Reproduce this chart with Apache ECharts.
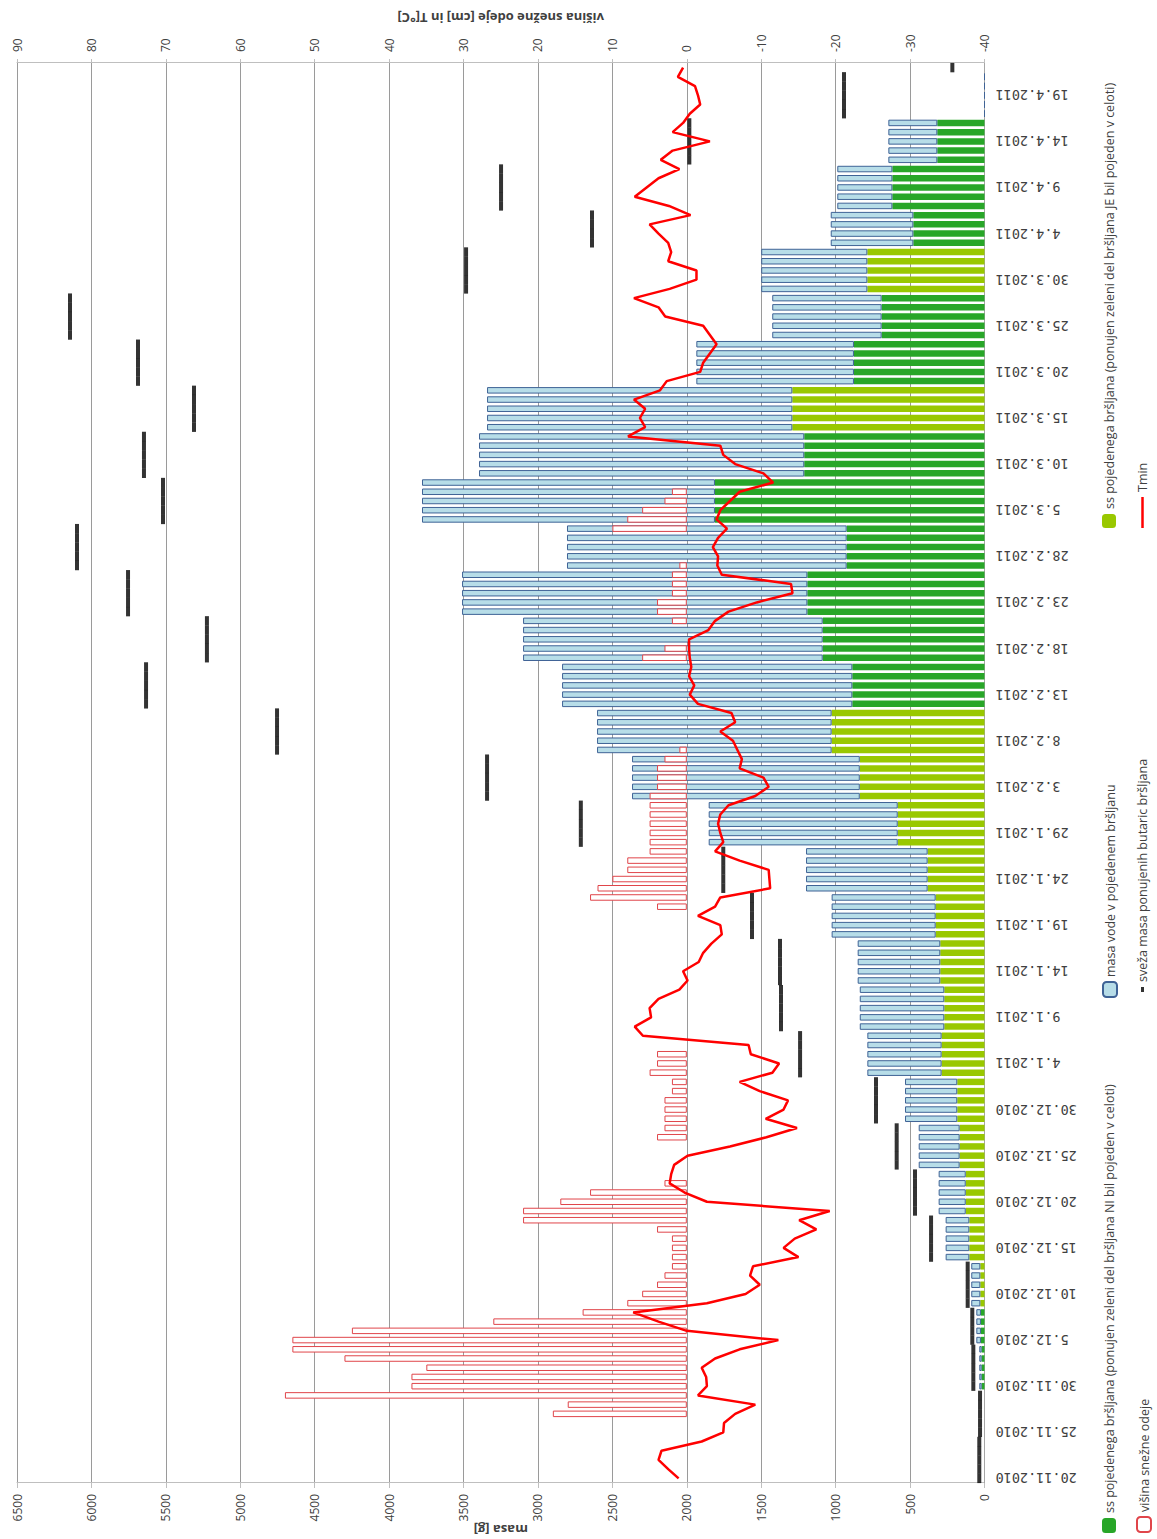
<!DOCTYPE html>
<html>
<head>
<meta charset="utf-8">
<script src="https://cdn.jsdelivr.net/npm/echarts@6/dist/echarts.min.js"></script>
<style>
  html, body { margin: 0; padding: 0; background: #fff; overflow: hidden; }
  #page { position: relative; width: 1157px; height: 1539px; overflow: hidden; background: #fff; }
  /* the chart is laid out landscape and turned a quarter turn counter-clockwise */
  #chart { position: absolute; left: 0; top: 0; width: 1539px; height: 1157px;
           transform-origin: 0 0; transform: translate(0px, 1539px) rotate(-90deg); }
</style>
</head>
<body>
<div id="page"><div id="chart"></div></div>
<script>
// Days of the feeding experiment (20.11.2010 - 22.4.2011)
const days = [
  "20.11.2010","21.11.2010","22.11.2010","23.11.2010","24.11.2010","25.11.2010","26.11.2010","27.11.2010","28.11.2010","29.11.2010","30.11.2010",
  "1.12.2010","2.12.2010","3.12.2010","4.12.2010","5.12.2010","6.12.2010","7.12.2010","8.12.2010","9.12.2010","10.12.2010",
  "11.12.2010","12.12.2010","13.12.2010","14.12.2010","15.12.2010","16.12.2010","17.12.2010","18.12.2010","19.12.2010","20.12.2010",
  "21.12.2010","22.12.2010","23.12.2010","24.12.2010","25.12.2010","26.12.2010","27.12.2010","28.12.2010","29.12.2010","30.12.2010","31.12.2010",
  "1.1.2011","2.1.2011","3.1.2011","4.1.2011","5.1.2011","6.1.2011","7.1.2011","8.1.2011","9.1.2011","10.1.2011",
  "11.1.2011","12.1.2011","13.1.2011","14.1.2011","15.1.2011","16.1.2011","17.1.2011","18.1.2011","19.1.2011","20.1.2011",
  "21.1.2011","22.1.2011","23.1.2011","24.1.2011","25.1.2011","26.1.2011","27.1.2011","28.1.2011","29.1.2011","30.1.2011","31.1.2011",
  "1.2.2011","2.2.2011","3.2.2011","4.2.2011","5.2.2011","6.2.2011","7.2.2011","8.2.2011","9.2.2011","10.2.2011",
  "11.2.2011","12.2.2011","13.2.2011","14.2.2011","15.2.2011","16.2.2011","17.2.2011","18.2.2011","19.2.2011","20.2.2011",
  "21.2.2011","22.2.2011","23.2.2011","24.2.2011","25.2.2011","26.2.2011","27.2.2011","28.2.2011",
  "1.3.2011","2.3.2011","3.3.2011","4.3.2011","5.3.2011","6.3.2011","7.3.2011","8.3.2011","9.3.2011","10.3.2011",
  "11.3.2011","12.3.2011","13.3.2011","14.3.2011","15.3.2011","16.3.2011","17.3.2011","18.3.2011","19.3.2011","20.3.2011",
  "21.3.2011","22.3.2011","23.3.2011","24.3.2011","25.3.2011","26.3.2011","27.3.2011","28.3.2011","29.3.2011","30.3.2011","31.3.2011",
  "1.4.2011","2.4.2011","3.4.2011","4.4.2011","5.4.2011","6.4.2011","7.4.2011","8.4.2011","9.4.2011","10.4.2011",
  "11.4.2011","12.4.2011","13.4.2011","14.4.2011","15.4.2011","16.4.2011","17.4.2011","18.4.2011","19.4.2011","20.4.2011",
  "21.4.2011","22.4.2011"
];

const _ = null;

// dry mass of eaten ivy, offered green part NOT eaten completely [g]
const dryPartEaten = [
  _,_,_,_,_,_,_,_,_,_,
  19,19,19,19,19,24,24,24,24,_,
  _,_,_,_,_,_,_,_,_,_,
  _,_,_,_,_,_,_,_,_,_,
  _,_,_,_,_,_,_,_,_,_,
  _,_,_,_,_,_,_,_,_,_,
  _,_,_,_,_,_,_,_,_,_,
  _,_,_,_,_,_,_,_,_,_,
  _,_,_,_,888,888,888,888,888,1087,
  1087,1087,1087,1087,1190,1190,1190,1190,1190,926,
  926,926,926,926,1811,1811,1811,1811,1811,1211,
  1211,1211,1211,1211,_,_,_,_,_,877,
  877,877,877,877,691,691,691,691,691,_,
  _,_,_,_,478,478,478,478,619,619,
  619,619,619,317,317,317,317,317,_,_,
  _,_,_,_
];

// dry mass of eaten ivy, offered green part eaten completely [g]
const dryAllEaten = [
  _,_,_,_,_,_,_,_,_,_,
  _,_,_,_,_,_,_,_,_,28,
  28,28,28,28,102,102,102,102,102,126,
  126,126,126,126,167,167,167,167,167,183,
  183,183,183,183,288,288,288,288,288,270,
  270,270,270,270,297,297,297,297,297,328,
  328,328,328,328,382,382,382,382,382,583,
  583,583,583,583,838,838,838,838,838,1027,
  1027,1027,1027,1027,_,_,_,_,_,_,
  _,_,_,_,_,_,_,_,_,_,
  _,_,_,_,_,_,_,_,_,_,
  _,_,_,_,1291,1291,1291,1291,1291,_,
  _,_,_,_,_,_,_,_,_,787,
  787,787,787,787,_,_,_,_,_,_,
  _,_,_,_,_,_,_,_,_,_,
  _,_,_,_
];

// water in the eaten ivy [g]
const waterEaten = [
  _,_,_,_,_,_,_,_,_,_,
  16,16,16,16,16,31,31,31,31,61,
  61,61,61,61,159,159,159,159,159,182,
  182,182,182,182,275,275,275,275,275,351,
  351,351,351,351,499,499,499,499,499,568,
  568,568,568,568,555,555,555,555,555,699,
  699,699,699,699,817,817,817,817,817,1270,
  1270,1270,1270,1270,1530,1530,1530,1530,1530,1576,
  1576,1576,1576,1576,1950,1950,1950,1950,1950,2013,
  2013,2013,2013,2013,2320,2320,2320,2320,2320,1879,
  1879,1879,1879,1879,1968,1968,1968,1968,1968,2185,
  2185,2185,2185,2185,2051,2051,2051,2051,2051,1059,
  1059,1059,1059,1059,735,735,735,735,735,713,
  713,713,713,713,555,555,555,555,370,370,
  370,370,370,329,329,329,329,329,0,0,
  0,0,0,_
];

// fresh mass of the offered ivy bundles [g]
const freshOffered = [
  35,35,35,35,35,30,30,30,30,30,
  75,75,75,75,75,82,82,82,82,113,
  113,113,113,113,359,359,359,359,359,467,
  467,467,467,467,590,590,590,590,590,729,
  729,729,729,729,1239,1239,1239,1239,1239,1367,
  1367,1367,1367,1367,1374,1374,1374,1374,1374,1562,
  1562,1562,1562,1562,1755,1755,1755,1755,1755,2712,
  2712,2712,2712,2712,3342,3342,3342,3342,3342,4753,
  4753,4753,4753,4753,5633,5633,5633,5633,5633,5224,
  5224,5224,5224,5224,5754,5754,5754,5754,5754,6097,
  6097,6097,6097,6097,5519,5519,5519,5519,5519,5647,
  5647,5647,5647,5647,5311,5311,5311,5311,5311,5687,
  5687,5687,5687,5687,6144,6144,6144,6144,6144,3483,
  3483,3483,3483,3483,2637,2637,2637,2637,3248,3248,
  3248,3248,3248,1983,1983,1983,1983,1983,944,944,
  944,944,944,216
];

// snow depth [cm]
const snowDepth = [
  _,_,_,_,_,_,_,18,16,54,
  37,37,35,46,53,53,45,26,14,8,
  6,4,3,2,2,2,2,4,22,22,
  17,13,3,_,_,_,_,4,3,3,
  3,3,2,2,5,4,4,_,_,_,
  _,_,_,_,_,_,_,_,_,_,
  _,_,4,13,12,10,8,8,5,5,
  5,5,5,5,5,4,4,4,3,1,
  _,_,_,_,_,_,_,_,_,6,
  3,_,_,2,4,4,2,2,2,1,
  _,_,_,10,8,6,3,2,_,_,
  _,_,_,_,_,_,_,_,_,_,
  _,_,_,_,_,_,_,_,_,_,
  _,_,_,_,_,_,_,_,_,_,
  _,_,_,_,_,_,_,_,_,_,
  _,_,_,_
];

// minimum daily temperature [°C]
const tMin = [
  1.1,2.5,3.8,3.4,-2.0,-4.9,-5.0,-6.5,-9.2,-1.5,
  -2.7,-2.6,-2.0,-3.8,-7.1,-12.3,0.0,3.8,7.2,-2.7,
  -7.9,-9.8,-8.5,-8.9,-15.0,-13.0,-14.5,-17.4,-15.1,-19.2,
  -2.7,0.3,2.3,2.1,1.7,-0.1,-5.8,-10.7,-14.8,-10.6,
  -13.0,-13.6,-9.8,-7.1,-11.5,-12.4,-8.6,-8.3,5.9,7.0,
  4.8,5.0,3.8,1.0,-0.1,0.5,-1.6,-2.2,-3.3,-4.7,
  -4.5,-1.5,-3.8,-4.5,-11.2,-11.1,-11.0,-7.1,-3.8,-4.9,
  -4.5,-4.2,-4.5,-5.6,-9.2,-11.0,-10.3,-7.1,-7.4,-6.8,
  -6.2,-4.5,-6.5,-6.0,-1.5,-0.4,-1.0,-0.3,-0.6,-0.4,
  -0.3,-0.3,-2.9,-3.8,-5.6,-9.4,-14.2,-14.0,-4.7,-4.1,
  -4.2,-3.5,-4.2,-5.4,-4.0,-4.5,-5.8,-7.1,-11.6,-10.3,
  -6.5,-4.9,-4.5,7.9,5.6,6.3,5.6,7.1,3.6,2.7,
  -1.8,-2.2,-3.1,-4.0,-3.1,-2.2,2.9,3.8,7.1,2.3,
  -1.3,-1.3,2.5,2.1,2.5,3.8,5.0,-0.5,2.4,7.0,
  5.4,3.8,1.0,3.5,1.9,-3.1,1.9,0.5,-0.4,-1.8,
  -1.5,-1.1,1.2,0.5
];

const massTicks = { min: 0, max: 6500, step: 500 };
const snowTicks = { min: -40, max: 90, step: 10 };

const NAME_PART = 'ss pojedenega bršljana (ponujen zeleni del bršljana NI bil pojeden v celoti)';
const NAME_ALL = 'ss pojedenega bršljana (ponujen zeleni del bršljana JE bil pojeden v celoti)';
const NAME_WATER = 'masa vode v pojedenem bršljanu';
const NAME_SNOW = 'višina snežne odeje';
const NAME_FRESH = 'sveža masa ponujenih butaric bršljana';
const NAME_TMIN = 'Tmin';

const TEXT = '#404040';
const UI_FONT = 'Open Sans';
const BAR_W = 6.5;

const legendText = { fontFamily: UI_FONT, fontSize: 12.5, color: TEXT };
function legendAt(item, left, top, w, h) {
  return { data: [item], left: left, top: top, orient: 'horizontal',
           itemWidth: w, itemHeight: h, padding: 0, textStyle: legendText,
           selectedMode: false };
}

const chart = echarts.init(document.getElementById('chart'), null,
  { renderer: 'svg', width: 1539, height: 1157 });

chart.setOption({
  animation: false,
  backgroundColor: '#ffffff',
  grid: { left: 56, right: 63, top: 17, bottom: 172.5,
          containLabel: false, outerBoundsMode: 'none' },
  legend: [
    legendAt(NAME_PART, 6, 1102, 15, 14),
    legendAt(NAME_SNOW, 6, 1136, 15, 14),
    legendAt(NAME_WATER, 541, 1102, 15, 14),
    legendAt(NAME_FRESH, 547, 1136, 5, 3),
    legendAt(NAME_ALL, 1011, 1102, 14, 14),
    legendAt({ name: NAME_TMIN, icon: 'rect' }, 1011, 1136, 31, 2.5)
  ],
  xAxis: {
    type: 'category', data: days, boundaryGap: true,
    axisLine: { show: true, lineStyle: { color: '#a6a6a6', width: 1 } },
    axisTick: { show: false },
    axisLabel: { interval: 4, rotate: 90, margin: 11,
                 fontFamily: 'DejaVu Sans Mono', fontSize: 13.5, color: TEXT },
    splitLine: { show: false }
  },
  yAxis: [
    {
      type: 'value', position: 'left',
      min: massTicks.min, max: massTicks.max, interval: massTicks.step,
      name: 'masa [g]', nameLocation: 'middle', nameRotate: 90, nameGap: 40,
      nameMoveOverlap: false,
      nameTextStyle: { fontFamily: UI_FONT, fontWeight: 'bold', fontSize: 13, color: TEXT },
      axisLine: { show: true, lineStyle: { color: '#bfbfbf' } },
      axisTick: { show: true, length: 5, lineStyle: { color: '#bfbfbf' } },
      axisLabel: { margin: 11, fontFamily: UI_FONT, fontSize: 12, color: TEXT,
                   formatter: function (v) { return String(v); } },
      splitLine: { show: true, lineStyle: { color: '#9a9a9a', width: 1 } }
    },
    {
      type: 'value', position: 'right',
      min: snowTicks.min, max: snowTicks.max, interval: snowTicks.step,
      name: 'višina snežne odeje [cm] in T[°C]', nameLocation: 'middle', nameRotate: 90, nameGap: 39,
      nameMoveOverlap: false,
      nameTextStyle: { fontFamily: UI_FONT, fontWeight: 'bold', fontSize: 13, color: TEXT },
      axisLine: { show: true, lineStyle: { color: '#bfbfbf' } },
      axisTick: { show: true, length: 4, lineStyle: { color: '#bfbfbf' } },
      axisLabel: { margin: 11, fontFamily: UI_FONT, fontSize: 12, color: TEXT,
                   formatter: function (v) { return String(v); } },
      splitLine: { show: false }
    }
  ],
  series: [
    {
      name: NAME_PART, type: 'bar', stack: 'eaten', yAxisIndex: 0,
      data: dryPartEaten, barWidth: BAR_W, barGap: '-100%',
      itemStyle: { color: '#28a628' }
    },
    {
      name: NAME_ALL, type: 'bar', stack: 'eaten', yAxisIndex: 0,
      data: dryAllEaten, barWidth: BAR_W, barGap: '-100%',
      itemStyle: { color: '#99c800' }
    },
    {
      name: NAME_WATER, type: 'bar', stack: 'eaten', yAxisIndex: 0,
      data: waterEaten, barWidth: BAR_W, barGap: '-100%',
      itemStyle: { color: '#b7dde8', borderColor: '#3f6396', borderWidth: 1 }
    },
    {
      name: NAME_SNOW, type: 'bar', yAxisIndex: 1,
      data: snowDepth, barWidth: BAR_W, barGap: '-100%',
      itemStyle: { color: '#ffffff', borderColor: '#e0454a', borderWidth: 1 }
    },
    {
      name: NAME_FRESH, type: 'scatter', yAxisIndex: 0,
      data: freshOffered, symbol: 'rect', symbolSize: [9.4, 4],
      itemStyle: { color: '#000000' }, z: 3
    },
    {
      name: NAME_TMIN, type: 'line', yAxisIndex: 1,
      data: tMin, symbol: 'none', smooth: false,
      lineStyle: { color: '#ff0000', width: 2.5 }, itemStyle: { color: '#ff0000' }, z: 4
    }
  ]
});
</script>
</body>
</html>
